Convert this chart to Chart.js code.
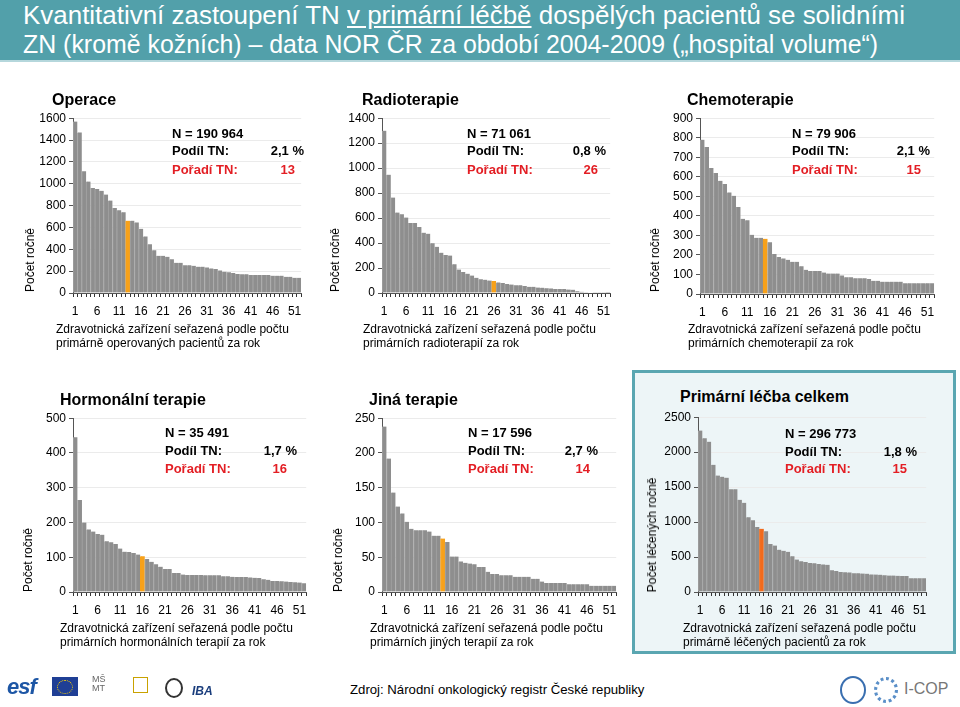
<!DOCTYPE html>
<html><head><meta charset="utf-8">
<script src="https://cdn.jsdelivr.net/npm/chart.js@4.4.1/dist/chart.umd.min.js"></script>
<style>
body{margin:0;width:960px;height:707px;position:relative;overflow:hidden;background:#fff;font-family:'Liberation Sans',Arial,sans-serif;color:#000;}
.abs{position:absolute;white-space:nowrap;}
#banner{position:absolute;left:0;top:0;width:960px;height:60px;background:#52a0aa;border-bottom:2px solid #b5d7dc;}
.bt{position:absolute;left:23px;color:#fff;font-size:26px;line-height:28px;transform-origin:0 50%;white-space:nowrap;}
.ctitle{font-weight:bold;font-size:16px;transform:translateY(-50%);}
.ann{font-weight:bold;font-size:13px;transform:translateY(-50%);}
.red{color:#e31e24;}
.ytitle{font-size:12px;transform:translate(-50%,-50%) rotate(-90deg);}
.xtitle{font-size:12px;line-height:14px;}
#panel{position:absolute;left:632px;top:370px;width:318px;height:278px;background:#edf5f7;border:3px solid #5aa6b1;}
canvas{position:absolute;}
</style></head>
<body>
<div id="banner"></div>
<div class="bt" id="bt1" style="top:1px">Kvantitativní zastoupení TN <u>v primární léčbě</u> dospělých pacientů se solidními</div>
<div class="bt" id="bt2" style="top:30px">ZN (kromě kožních) – data NOR ČR za období 2004-2009 („hospital volume“)</div>
<div id="panel"></div>
<div id="layer"></div>
<script>
// ---- DATA ----
const hospitals = ["1","2","3","4","5","6","7","8","9","10","11","12","13","14","15","16","17","18","19","20","21","22","23","24","25","26","27","28","29","30","31","32","33","34","35","36","37","38","39","40","41","42","43","44","45","46","47","48","49","50","51","52"];
const operace = [1570,1470,1115,1020,962,952,935,902,846,778,757,738,662,662,646,588,518,446,392,340,340,331,310,277,277,253,253,249,241,241,234,225,219,207,195,189,183,174,171,171,165,165,165,165,165,159,159,159,149,149,140,140];
const radioterapie = [1300,948,765,645,630,605,560,560,528,483,475,398,370,323,305,300,230,188,168,155,140,122,110,107,100,96,85,80,72,68,63,62,56,50,50,44,43,38,37,33,32,32,28,27,14,10,6,4,3,2,2,1];
const chemoterapie = [790,753,645,620,580,563,520,503,445,385,378,303,288,288,283,265,205,190,182,175,165,165,142,124,118,118,118,110,105,105,105,95,86,86,80,80,80,77,68,68,63,63,63,63,63,55,55,55,55,55,55,55];
const hormonalni = [445,265,200,180,174,167,165,146,143,138,125,116,115,112,108,103,95,87,80,73,66,66,55,55,50,49,49,49,49,48,48,48,48,45,45,44,43,43,43,42,41,40,37,35,32,32,31,30,29,28,27,25];
const jina = [238,192,143,123,113,101,91,89,89,89,87,81,81,77,72,51,51,44,42,41,40,36,36,29,26,26,24,24,24,22,22,22,22,19,19,15,13,13,13,13,13,11,11,11,11,11,9,9,9,9,9,9];
const celkem = [2310,2200,2150,1820,1665,1650,1635,1470,1470,1320,1275,1070,1025,930,905,870,685,665,605,590,575,510,465,440,430,415,410,400,395,390,310,300,285,282,280,268,267,265,262,252,250,248,238,236,235,232,230,228,198,195,195,195];
const tnRank = {operace:13, radioterapie:26, chemoterapie:15, hormonalni:16, jina:14, celkem:15};

const FONT = "'Liberation Sans', Arial, sans-serif";
const BAR = '#8e8e8e';
const layer = document.getElementById('layer');

function addText(html, cls, style){
  const d=document.createElement('div'); d.className='abs '+cls; d.innerHTML=html;
  Object.assign(d.style, style); layer.appendChild(d); return d;
}

function makeChart(box, values, rank, hiColor, maxV, step){
  const YW=45, XH=30, PT=10, PR=3;
  const c=document.createElement('canvas');
  const W=box.r-box.l+YW+PR, H=box.b-box.t+PT+XH;
  c.width=W; c.height=H;
  c.style.left=(box.l-YW)+'px'; c.style.top=(box.t-PT)+'px';
  c.style.width=W+'px'; c.style.height=H+'px';
  layer.appendChild(c);
  new Chart(c,{
    type:'bar',
    data:{labels:hospitals,datasets:[{data:values,
      backgroundColor:values.map((v,i)=>i===rank-1?hiColor:BAR),
      borderColor:values.map((v,i)=>i===rank-1?hiColor:'#a3a3a3'),
      borderWidth:{left:1,right:0,top:0,bottom:0},
      barPercentage:1,categoryPercentage:1}]},
    options:{responsive:false,animation:false,devicePixelRatio:1,
      layout:{padding:{top:PT,right:PR,left:0,bottom:0}},
      plugins:{legend:{display:false},tooltip:{enabled:false}},
      scales:{
        x:{afterFit:s=>{s.height=XH;},
          grid:{display:true,drawOnChartArea:false,drawTicks:true,tickLength:4,color:'#333',offset:true},
          border:{color:'#555',width:1},
          ticks:{autoSkip:false,maxRotation:0,minRotation:0,padding:7,color:'#000',font:{family:FONT,size:12},
            callback:(v,i)=>i%5===0?hospitals[i]:''}},
        y:{min:0,max:maxV,afterFit:s=>{s.width=YW;},
          ticks:{stepSize:step,padding:3,color:'#000',font:{family:FONT,size:12},callback:v=>String(v)},
          grid:{color:'#ebebeb',tickColor:'#555',tickLength:4},
          border:{color:'#555',width:1}}
      }}
  });
}

const charts=[
  {title:'Operace',tx:52,ty:100,box:{l:73,t:118,r:303,b:293},vals:operace,rank:tnRank.operace,hc:'#f7a11a',max:1600,step:200,
   yt:'Počet ročně',ytx:30,yty:260,xt:['Zdravotnická zařízení seřazená podle počtu','primárně operovaných pacientů za rok'],xtx:56,xty:322,
   ax:172,ay:[133,150,169],n:'N = 190 964',pct:'2,1 %',pr:304,rr:295},
  {title:'Radioterapie',tx:362,ty:100,box:{l:382,t:118,r:612,b:293},vals:radioterapie,rank:tnRank.radioterapie,hc:'#f7a11a',max:1400,step:200,
   yt:'Počet ročně',ytx:335,yty:260,xt:['Zdravotnická zařízení seřazená podle počtu','primárních radioterapií za rok'],xtx:363,xty:322,
   ax:467,ay:[133,150,169],n:'N = 71 061',pct:'0,8 %',pr:606,rr:598},
  {title:'Chemoterapie',tx:687,ty:100,box:{l:700,t:118,r:936,b:294},vals:chemoterapie,rank:tnRank.chemoterapie,hc:'#f7a11a',max:900,step:100,
   yt:'Počet ročně',ytx:655,yty:260,xt:['Zdravotnická zařízení seřazená podle počtu','primárních chemoterapií za rok'],xtx:688,xty:322,
   ax:792,ay:[133,150,169],n:'N = 79 906',pct:'2,1 %',pr:930,rr:921},
  {title:'Hormonální terapie',tx:60,ty:400,box:{l:73,t:418,r:308,b:592},vals:hormonalni,rank:tnRank.hormonalni,hc:'#f7a11a',max:500,step:50,
   yt:'Počet ročně',ytx:28,yty:560,xt:['Zdravotnická zařízení seřazená podle počtu','primárních hormonálních terapií za rok'],xtx:60,xty:621,
   ax:165,ay:[432,450,468],n:'N = 35 491',pct:'1,7 %',pr:297,rr:287},
  {title:'Jiná terapie',tx:369,ty:400,box:{l:382,t:418,r:618,b:592},vals:jina,rank:tnRank.jina,hc:'#f7a11a',max:250,step:50,
   yt:'Počet ročně',ytx:338,yty:560,xt:['Zdravotnická zařízení seřazená podle počtu','primárních jiných terapií za rok'],xtx:370,xty:621,
   ax:468,ay:[432,450,468],n:'N = 17 596',pct:'2,7 %',pr:598,rr:590},
  {title:'Primární léčba celkem',tx:680,ty:397,box:{l:698,t:417,r:928,b:592},vals:celkem,rank:tnRank.celkem,hc:'#f26a1b',max:2500,step:500,
   yt:'Počet léčených ročně',ytx:652,yty:535,xt:['Zdravotnická zařízení seřazená podle počtu','primárně léčených pacientů za rok'],xtx:683,xty:621,
   ax:785,ay:[433,451,468],n:'N = 296 773',pct:'1,8 %',pr:917,rr:907}
];

charts.forEach(ch=>{
  makeChart(ch.box,ch.vals,ch.rank,ch.hc,ch.max,ch.step);
  addText(ch.title,'ctitle',{left:ch.tx+'px',top:ch.ty+'px'});
  addText(ch.yt,'ytitle',{left:ch.ytx+'px',top:ch.yty+'px'});
  addText(ch.xt.join('<br>'),'xtitle',{left:ch.xtx+'px',top:ch.xty+'px'});
  addText(ch.n,'ann',{left:ch.ax+'px',top:ch.ay[0]+'px'});
  addText('Podíl TN:','ann',{left:ch.ax+'px',top:ch.ay[1]+'px'});
  addText('Pořadí TN:','ann red',{left:ch.ax+'px',top:ch.ay[2]+'px'});
  addText(ch.pct,'ann',{right:(960-ch.pr)+'px',top:ch.ay[1]+'px'});
  addText(String(ch.rank),'ann red',{right:(960-ch.rr)+'px',top:ch.ay[2]+'px'});
});

// footer
const src=addText('Zdroj: Národní onkologický registr České republiky','',{left:'350px',top:'682px',fontSize:'13px'});
// simple logo marks
addText('esf','',{left:'7px',top:'674px',fontSize:'22px',fontWeight:'bold',fontStyle:'italic',color:'#1d56a5',letterSpacing:'-1px'});
addText('','',{left:'52px',top:'677px',width:'26px',height:'19px',background:'#1f3f95'});
addText('','',{left:'57px',top:'680px',width:'14px',height:'12px',borderRadius:'50%',border:'1px dotted #ffd400'});
addText('MŠ<br>MT','',{left:'92px',top:'675px',fontSize:'9px',lineHeight:'9px',color:'#666'});
addText('','',{left:'133px',top:'677px',width:'13px',height:'14px',border:'1px solid #c9a200'});
addText('','',{left:'165px',top:'678px',width:'14px',height:'16px',borderRadius:'50%',border:'2px solid #333'});
addText('IBA','',{left:'192px',top:'684px',fontSize:'12px',fontWeight:'bold',fontStyle:'italic',color:'#1a3d7c'});
addText('','',{left:'840px',top:'676px',width:'22px',height:'24px',borderRadius:'50%',border:'2px solid #3a6fb0'});
addText('','',{left:'874px',top:'677px',width:'18px',height:'20px',borderRadius:'50%',border:'3px dotted #5a8fc8'});
addText('I-COP','',{left:'904px',top:'680px',fontSize:'16px',color:'#777'});

// fit banner / footer widths
function fit(el,w){const nw=el.scrollWidth||el.getBoundingClientRect().width; el.style.transform='scaleX('+(w/nw)+')';}
fit(document.getElementById('bt1'),882);
fit(document.getElementById('bt2'),855);
src.style.transformOrigin='0 0'; fit(src,294);
</script>
</body></html>
